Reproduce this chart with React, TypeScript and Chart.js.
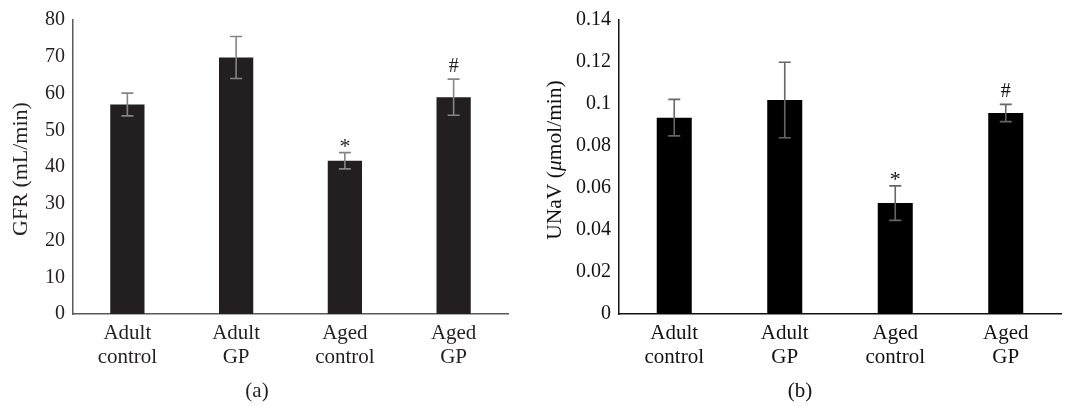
import React, { useEffect, useRef } from "react";
import { Chart, registerables } from "chart.js";

Chart.register(...registerables);

const categories: string[][] = [
  ["Adult", "control"],
  ["Adult", "GP"],
  ["Aged", "control"],
  ["Aged", "GP"],
];

const gfrValues = [57.0, 69.8, 41.7, 59.0];
const gfrErrors = [3.1, 5.7, 2.2, 4.9];
const gfrMarks = ["", "", "*", "#"];
const gfrTickStep = 10;
const gfrMax = 80;

const unavValues = [0.0935, 0.1019, 0.0528, 0.0957];
const unavErrors = [0.0087, 0.018, 0.0082, 0.0041];
const unavMarks = ["", "", "*", "#"];
const unavTickStep = 0.02;
const unavMax = 0.14;

const SERIF = '"Liberation Serif", "DejaVu Serif", serif';

type TitlePart = { text: string; italic?: boolean };

interface PanelCfg {
  values: number[];
  errors: number[];
  marks: string[];
  max: number;
  step: number;
  barColor: string;
  axisColor: string;
  textColor: string;
  errColor: string;
  titleParts: TitlePart[];
  titleX: number;
  titleY: number;
  titleSize: number;
  panelLabel: string;
  panelLabelX: number;
  yWidth: number;
  rightPad: number;
  barPct: number;
  canvasWidth: number;
  tickFormat: (v: number) => string;
}

function makePlugin(cfg: PanelCfg) {
  return {
    id: "extras",
    afterDatasetsDraw(chart: any) {
      const ctx = chart.ctx as CanvasRenderingContext2D;
      const meta = chart.getDatasetMeta(0);
      const ys = chart.scales.y;
      ctx.save();
      meta.data.forEach((el: any, i: number) => {
        const v = cfg.values[i];
        const e = cfg.errors[i];
        const x = el.x;
        const yTop = ys.getPixelForValue(v + e);
        const yBot = ys.getPixelForValue(v - e);
        ctx.strokeStyle = cfg.errColor;
        ctx.lineWidth = 1.6;
        ctx.beginPath();
        ctx.moveTo(x, yTop);
        ctx.lineTo(x, yBot);
        ctx.moveTo(x - 6, yTop);
        ctx.lineTo(x + 6, yTop);
        ctx.moveTo(x - 6, yBot);
        ctx.lineTo(x + 6, yBot);
        ctx.stroke();
        const m = cfg.marks[i];
        if (m) {
          ctx.fillStyle = cfg.textColor;
          ctx.font = `${m === "*" ? 22 : 20}px ${SERIF}`;
          ctx.textAlign = "center";
          ctx.textBaseline = "alphabetic";
          const off = m === "#" ? 7 : 0;
          ctx.fillText(m, x, yTop - off);
        }
      });
      ctx.restore();
    },
    afterDraw(chart: any) {
      const ctx = chart.ctx as CanvasRenderingContext2D;
      ctx.save();
      ctx.translate(cfg.titleX, cfg.titleY);
      ctx.rotate(-Math.PI / 2);
      ctx.fillStyle = cfg.textColor;
      ctx.textBaseline = "middle";
      ctx.textAlign = "left";
      const fontFor = (p: TitlePart) => `${p.italic ? "italic " : ""}${cfg.titleSize}px ${SERIF}`;
      let total = 0;
      const widths = cfg.titleParts.map((p) => {
        ctx.font = fontFor(p);
        const w = ctx.measureText(p.text).width;
        total += w;
        return w;
      });
      let cx = -total / 2;
      cfg.titleParts.forEach((p, i) => {
        ctx.font = fontFor(p);
        ctx.fillText(p.text, cx, 0);
        cx += widths[i];
      });
      ctx.restore();
      ctx.save();
      ctx.fillStyle = cfg.textColor;
      ctx.font = `21px ${SERIF}`;
      ctx.textAlign = "center";
      ctx.textBaseline = "middle";
      ctx.fillText(cfg.panelLabel, cfg.panelLabelX, 391);
      ctx.restore();
    },
  };
}

function Panel({ cfg, left }: { cfg: PanelCfg; left: number }) {
  const ref = useRef<HTMLCanvasElement | null>(null);
  useEffect(() => {
    if (!ref.current) return;
    const chart = new Chart(ref.current, {
      type: "bar",
      data: {
        labels: categories,
        datasets: [
          {
            data: cfg.values,
            backgroundColor: cfg.barColor,
            borderWidth: 0,
            barPercentage: cfg.barPct,
            categoryPercentage: 1,
          },
        ],
      },
      options: {
        animation: false,
        responsive: false,
        devicePixelRatio: 1,
        layout: { padding: { top: 17, right: cfg.rightPad, left: 0, bottom: 0 } },
        plugins: {
          legend: { display: false },
          tooltip: { enabled: false },
          title: { display: false },
        },
        scales: {
          x: {
            grid: { display: false, drawTicks: false },
            border: { display: true, color: cfg.axisColor, width: 1.5 },
            ticks: {
              font: { family: SERIF, size: 21, lineHeight: 1.12 },
              color: cfg.textColor,
              padding: 8,
              maxRotation: 0,
              autoSkip: false,
            },
            afterFit: (s: any) => {
              s.height = 92;
            },
          },
          y: {
            min: 0,
            max: cfg.max,
            grid: { display: false, drawTicks: false },
            border: { display: true, color: cfg.axisColor, width: 1.5 },
            ticks: {
              stepSize: cfg.step,
              font: { family: SERIF, size: 20 },
              color: cfg.textColor,
              padding: 8,
              callback: (v: any) => cfg.tickFormat(Number(v)),
            },
            afterFit: (s: any) => {
              s.width = cfg.yWidth;
            },
          },
        },
      },
      plugins: [makePlugin(cfg)],
    } as any);
    return () => chart.destroy();
  }, []);
  return (
    <canvas
      ref={ref}
      width={cfg.canvasWidth}
      height={406}
      style={{ position: "absolute", left, top: 0, width: cfg.canvasWidth, height: 406, display: "block" }}
    />
  );
}

const leftCfg: PanelCfg = {
  values: gfrValues,
  errors: gfrErrors,
  marks: gfrMarks,
  max: gfrMax,
  step: gfrTickStep,
  barColor: "#231f20",
  axisColor: "#5a5a5a",
  textColor: "#231f20",
  errColor: "#858585",
  titleParts: [{ text: "GFR (mL/min)" }],
  titleX: 21,
  titleY: 169,
  titleSize: 22,
  panelLabel: "(a)",
  panelLabelX: 257,
  yWidth: 73,
  rightPad: 22,
  barPct: 0.315,
  canvasWidth: 530,
  tickFormat: (v) => String(Math.round(v)),
};

const rightCfg: PanelCfg = {
  values: unavValues,
  errors: unavErrors,
  marks: unavMarks,
  max: unavMax,
  step: unavTickStep,
  barColor: "#000000",
  axisColor: "#111111",
  textColor: "#111111",
  errColor: "#666666",
  titleParts: [{ text: "UNaV (" }, { text: "μ", italic: true }, { text: "mol/min)" }],
  titleX: 25,
  titleY: 160,
  titleSize: 21.5,
  panelLabel: "(b)",
  panelLabelX: 270,
  yWidth: 89,
  rightPad: 4,
  barPct: 0.317,
  canvasWidth: 535,
  tickFormat: (v) => {
    const r = Math.round(v * 100) / 100;
    return r === 0 ? "0" : String(r);
  },
};

export default function App() {
  return (
    <div style={{ position: "absolute", left: 0, top: 0, width: 1065, height: 406, background: "#fff" }}>
      <Panel cfg={leftCfg} left={0} />
      <Panel cfg={rightCfg} left={530} />
    </div>
  );
}
